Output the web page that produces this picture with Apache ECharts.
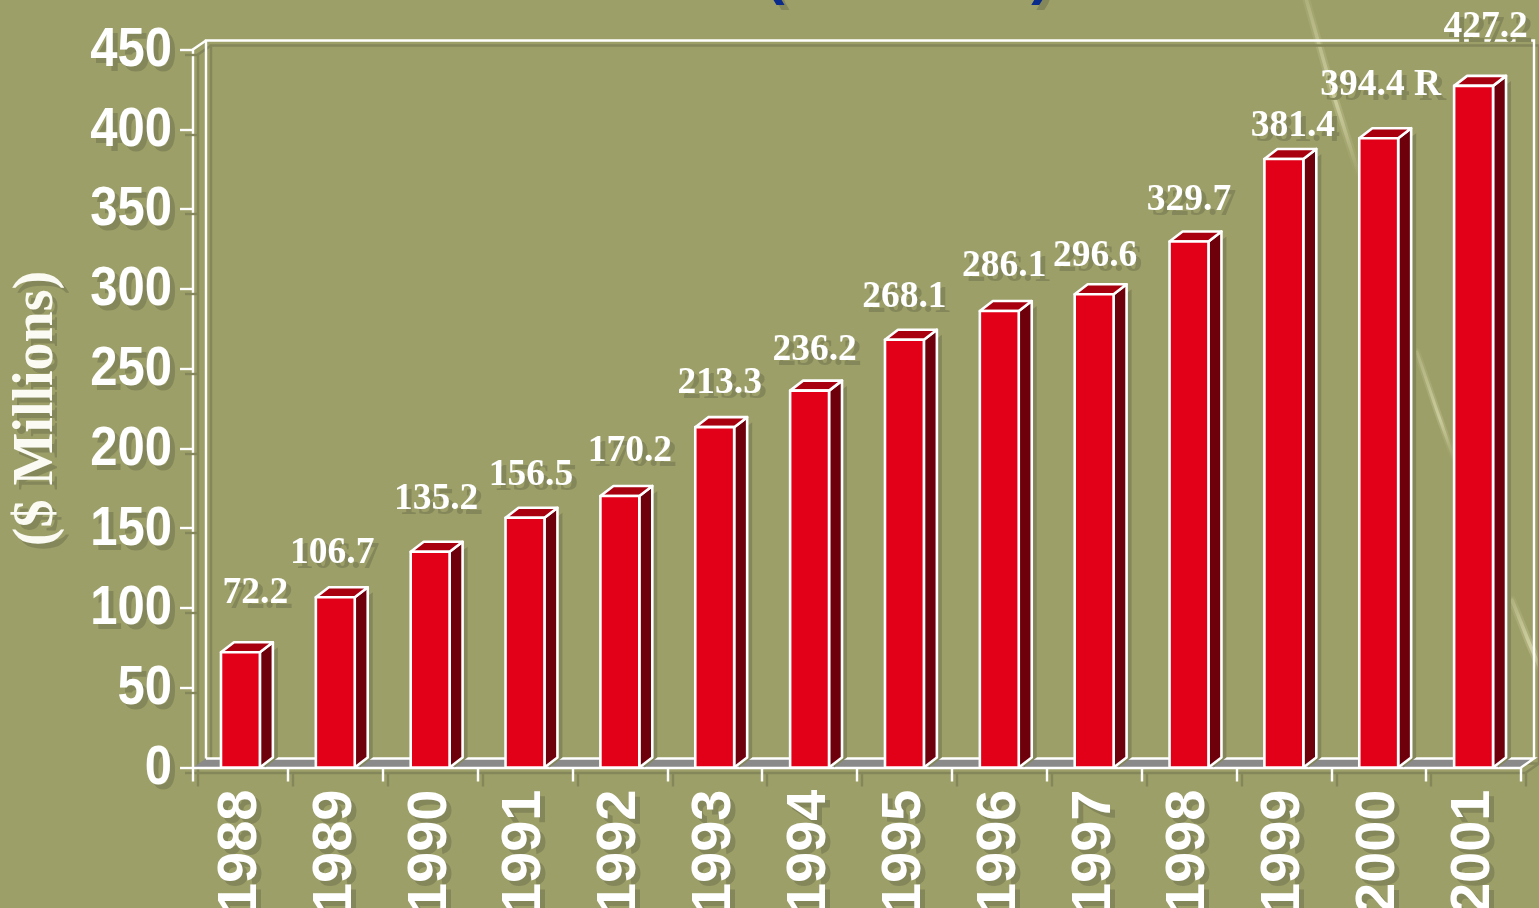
<!DOCTYPE html>
<html><head><meta charset="utf-8">
<style>html,body{margin:0;padding:0;background:#9d9f68;overflow:hidden}#c{width:1539px;height:908px}</style>
<script src="https://cdn.jsdelivr.net/npm/echarts@6/dist/echarts.min.js"></script>
</head><body><div id="c"></div>
<script>
const categories = ['1988','1989','1990','1991','1992','1993','1994','1995','1996','1997','1998','1999','2000','2001'];
const values = [72.2,106.7,135.2,156.5,170.2,213.3,236.2,268.1,286.1,296.6,329.7,381.4,394.4,427.2];
const valueLabels = ['72.2','106.7','135.2','156.5','170.2','213.3','236.2','268.1','286.1','296.6','329.7','381.4','394.4 R','427.2'];
const yTicks = [0,50,100,150,200,250,300,350,400,450];
const yAxisTitle = '($ Millions)';
// label placement relative to the bar's top-centre (layout only)
const labelDX = [15,-3,6,6,10,5,5,0,5,1,0,9,2,12];
const labelDY = [-59,-44,-52,-42,-45,-44,-40,-42,-45,-38,-41,-33,-53,-59];

const BG='#9d9f68', SH='#84875a', WHITE='#ffffff';
const DX=13, DY=-10, OFF=5;
const shadowText={textShadowColor:SH,textShadowBlur:0.5,textShadowOffsetX:OFF,textShadowOffsetY:OFF};
const shadowLine={shadowColor:SH,shadowOffsetX:OFF,shadowOffsetY:OFF,shadowBlur:0.5};
const chart=echarts.init(document.getElementById('c'),null,{renderer:'canvas'});

function pl(points,stroke,w){return {type:'polyline',shape:{points},style:{stroke,lineWidth:w,fill:null}};}
function shift(p){return p.map(q=>[q[0]+OFF,q[1]+OFF]);}

function renderWalls(params){
  const c=params.coordSys, L=c.x, R=c.x+c.width, T=c.y, B=c.y+c.height;
  const bk=[[L+DX,B+DY+1],[L+DX,T+DY+1],[R+DX,T+DY+1],[R+DX,B+DY+1]];
  const side=[[L,B],[L,T],[L+DX,T+DY+1]];
  const floor=[[L,B],[L+DX,B+DY+1],[R+DX,B+DY+1],[R,B]];
  const floorBack=[[L+DX,B+DY+1],[R+DX,B+DY+1],[R,B]];
  return {type:'group',children:[
    pl(shift(bk),SH,2.5), pl(shift(side),SH,2.5), pl(shift(floorBack),SH,2.5),
    {type:'polygon',shape:{points:floor},style:{fill:'#8a8a8a',stroke:null}},
    pl(bk,WHITE,2.4), pl(side,WHITE,2.4), pl(floorBack,WHITE,2.4)
  ]};
}
function renderBar(params,api){
  const v=api.value(1), top=api.coord([api.value(0),v]), base=api.coord([api.value(0),0]);
  const w=api.size([1,0])[0]*0.41, l=top[0]-w/2, r=top[0]+w/2, t=top[1], b=base[1];
  const front=[[l,t],[r,t],[r,b],[l,b]];
  const side=[[r,t],[r+DX,t+DY],[r+DX,b+DY],[r,b]];
  const cap=[[l,t],[l+DX,t+DY],[r+DX,t+DY],[r,t]];
  const stroke={stroke:WHITE,lineWidth:2.6,lineJoin:'round'};
  return {type:'group',children:[
    {type:'polygon',shape:{points:shift([[r+DX,t+DY],[r+DX,b+DY-OFF],[r,b-OFF],[r,t]])},style:{fill:SH}},
    {type:'polygon',shape:{points:side},style:Object.assign({fill:'#6e000c'},stroke)},
    {type:'polygon',shape:{points:cap},style:Object.assign({fill:'#a8000f'},stroke)},
    {type:'polygon',shape:{points:front},style:Object.assign({fill:'#e10017'},stroke)}
  ]};
}
function renderValueLabel(params,api){
  const i=params.dataIndex, p=api.coord([api.value(0),api.value(1)]);
  return {type:'text',z2:50,style:Object.assign({
    x:p[0]+labelDX[i],y:p[1]+labelDY[i],text:valueLabels[i],align:'center',verticalAlign:'middle',
    fill:WHITE,font:'bold 37.5px "Liberation Serif"'},shadowText)};
}
function renderYLabel(params,api){
  const c=params.coordSys, v=api.value(1), y=api.coord([0,v])[1]+1, x=c.x-21;
  return {type:'text',x:x,y:y,scaleX:0.875,style:Object.assign({
    x:0,y:0,text:String(v),align:'right',verticalAlign:'middle',
    fill:WHITE,font:'bold 56px "Liberation Sans"'},shadowText)};
}
function streak(pts,op,w){
  const a=pts[0],b=pts[pts.length-1];
  const grad=o=>new echarts.graphic.LinearGradient(a[0],a[1],b[0],b[1],[
      {offset:0,color:'rgba(232,232,190,'+o*0.35+')'},{offset:0.6,color:'rgba(232,232,190,'+o+')'},{offset:1,color:'rgba(232,232,190,0)'}],true);
  return [
    {type:'polyline',z:0,shape:{points:pts},style:{fill:null,lineWidth:w*2.2,lineCap:'round',stroke:grad(op*0.3)}},
    {type:'polyline',z:0,shape:{points:pts},style:{fill:null,lineWidth:w,lineCap:'round',stroke:grad(op*0.7)}}
  ];
}
chart.setOption({
  animation:false,
  backgroundColor:BG,
  graphic:[].concat(
    streak([[1305,-5],[1332,90],[1360,178]],0.7,3.5),
    streak([[1417,352],[1436,408],[1455,462]],0.7,3),
    streak([[1512,600],[1528,640],[1545,680]],0.8,3.5),
    [{type:'text',z:1,style:Object.assign({x:775,y:-52,text:'(',fill:'#0a2a8c',font:'bold 58px "Liberation Sans"',align:'center'},shadowText)},
    {type:'text',z:1,style:Object.assign({x:1041,y:-52,text:')',fill:'#0a2a8c',font:'bold 58px "Liberation Sans"',align:'center'},shadowText)}]
  ),
  grid:{left:193,right:18,top:49.5,bottom:140.5,containLabel:false,outerBoundsMode:'none'},
  xAxis:{type:'category',data:categories,boundaryGap:true,z:3,
    axisLine:{show:true,lineStyle:Object.assign({color:WHITE,width:2.4},shadowLine)},
    axisTick:{show:true,length:14,alignWithLabel:false,lineStyle:Object.assign({color:WHITE,width:2.4},shadowLine)},
    axisLabel:Object.assign({interval:0,rotate:90,margin:22,color:WHITE,fontFamily:'Liberation Sans',fontWeight:'bold',fontSize:56,hideOverlap:false},shadowText)},
  yAxis:{type:'value',min:0,max:450,interval:50,z:3,
    name:yAxisTitle,nameLocation:'middle',nameRotate:90,nameGap:127,
    nameTextStyle:Object.assign({color:'#fbfbf4',fontFamily:'Liberation Serif',fontWeight:'bold',fontSize:56},shadowText),
    axisLine:{show:false},splitLine:{show:false},
    axisTick:{show:true,length:13,lineStyle:Object.assign({color:WHITE,width:2.4},shadowLine)},
    axisLabel:{show:false}},
  series:[
    {type:'custom',name:'walls',z:1,clip:false,silent:true,renderItem:renderWalls,data:[[0,0]],encode:{x:0,y:1}},
    {type:'custom',name:'Value',z:4,clip:false,renderItem:renderBar,data:values.map((v,i)=>[i,v]),encode:{x:0,y:1}},
    {type:'custom',name:'value labels',z:5,clip:false,silent:true,renderItem:renderValueLabel,data:values.map((v,i)=>[i,v]),encode:{x:0,y:1}},
    {type:'custom',name:'y labels',z:5,clip:false,silent:true,renderItem:renderYLabel,data:yTicks.map(v=>[0,v]),encode:{x:0,y:1}}
  ]
});
</script></body></html>
